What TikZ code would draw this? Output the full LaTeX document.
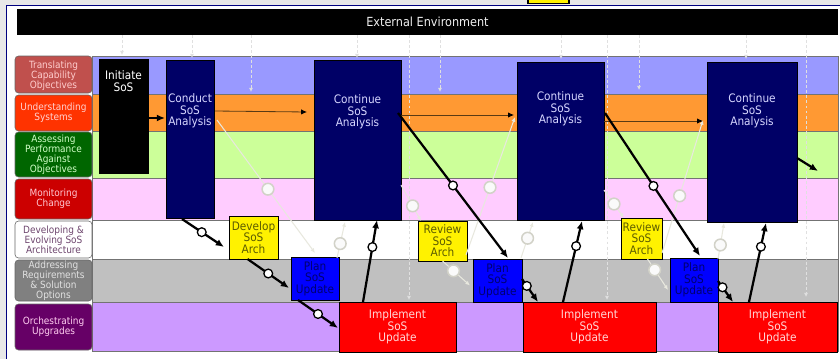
\documentclass[tikz,border=0pt]{standalone}
\usepackage{fontspec}
\setmainfont{DejaVu Sans Condensed}
\usetikzlibrary{fit,calc,arrows.meta}
\definecolor{laneA}{HTML}{9999FF}
\definecolor{laneB}{HTML}{FF9933}
\definecolor{laneC}{HTML}{CCFF99}
\definecolor{laneD}{HTML}{FFCCFF}
\definecolor{laneE}{HTML}{FFFFFF}
\definecolor{laneF}{HTML}{C0C0C0}
\definecolor{laneG}{HTML}{CC99FF}
\definecolor{lblA}{HTML}{C0504D}
\definecolor{lblB}{HTML}{FF3300}
\definecolor{lblC}{HTML}{006600}
\definecolor{lblD}{HTML}{CC0000}
\definecolor{lblF}{HTML}{808080}
\definecolor{lblG}{HTML}{660066}
\definecolor{navybox}{HTML}{000066}
\definecolor{framebg}{HTML}{E8E8E8}
\definecolor{frameblue}{HTML}{000080}
\definecolor{faintline}{HTML}{E8E8DE}
\definecolor{faintring}{HTML}{D2D2C8}
\definecolor{dashcol}{HTML}{E0E0E0}
\definecolor{thinline}{HTML}{5A3A14}
\definecolor{olivetext}{HTML}{5C5C00}
\definecolor{navytext}{HTML}{D7D7FF}
\definecolor{redtext}{HTML}{FFD7D7}
\definecolor{plantext}{HTML}{000070}
\newcommand\mylblfont{\fontsize{8.5}{8.6}\selectfont}
\newcommand\myboxfont{\fontsize{10}{9.8}\selectfont}
\newcommand\myheadfont{\fontsize{10.7}{12}\selectfont}
\begin{document}
\begin{tikzpicture}[x=0.03cm,y=-0.03cm,
  every node/.style={inner sep=0pt,outer sep=0pt},
  lane/.style={draw=black!55,line width=0.5pt},
  lbl/.style={draw=black!60,line width=0.5pt,rounded corners=3pt},
  lbltxt/.style={align=center,font=\mylblfont},
  blk/.style={draw=black,line width=0.8pt},
  boxtxt/.style={align=center,font=\myboxfont},
  thk/.style={draw=black,line width=1.9pt,-{Latex[length=7pt,width=6pt]}},
  thn/.style={draw=thinline,line width=0.7pt,-{Latex[length=5pt,width=4.5pt,color=black]}},
  fnt/.style={draw=faintline,line width=0.9pt,-{Latex[length=4pt,width=3.5pt]}},
  dsh/.style={draw=dashcol,line width=0.7pt,dash pattern=on 2.5pt off 1.8pt,-{Latex[length=3.5pt,width=3.5pt]}},
  circ/.style={circle,draw=black,fill=white,line width=1.1pt,minimum size=7.5pt},
  fcirc/.style={circle,draw=faintring,fill=white!96!gray,line width=1.3pt,minimum size=10pt}]
\useasboundingbox (0,0) rectangle (840,359);
% page frame
\fill[framebg] (0,0) rectangle (840,359);
\fill[white] (6.5,5.5) rectangle (840,359);
\draw[frameblue,line width=1.2pt] (6.5,359) -- (6.5,5.3) -- (840,5.3);
\node[draw=black,line width=0.9pt,fill=yellow,fit={(528,-2)(569,3.8)}] (tab) {};
% external environment bar
\node[fill=black,fit={(17,9)(838,35)}] (bar) {};
\node[font=\myheadfont,text=white!88!gray] (bart) at (bar) {External Environment};
% lanes
\node[lane,fill=laneA,fit={(92,56)(838,94)}] (ln1) {};
\node[lane,fill=laneB,fit={(92,94)(838,131)}] (ln2) {};
\node[lane,fill=laneC,fit={(92,131)(838,178)}] (ln3) {};
\node[lane,fill=laneD,fit={(92,178)(838,220)}] (ln4) {};
\node[lane,fill=laneE,fit={(92,220)(838,259)}] (ln5) {};
\node[lane,fill=laneF,fit={(92,259)(838,302)}] (ln6) {};
\node[lane,fill=laneG,fit={(92,302)(838,351)}] (ln7) {};
% lane labels
\node[lbl,fill=lblA,fit={(15,56)(92,93)}] (lb1) {};
\node[lbltxt,text={rgb,255:red,255;green,205;blue,205}] (lb1t) at ($(lb1)+(0,1.5)$) {Translating\\Capability\\Objectives};
\node[lbl,fill=lblB,fit={(15,95)(92,131)}] (lb2) {};
\node[lbltxt,text={rgb,255:red,255;green,210;blue,210}] (lb2t) at (lb2) {Understanding\\Systems};
\node[lbl,fill=lblC,fit={(15,132)(92,177)}] (lb3) {};
\node[lbltxt,text={rgb,255:red,210;green,255;blue,200}] (lb3t) at (lb3) {Assessing\\Performance\\Against\\Objectives};
\node[lbl,fill=lblD,fit={(15,179)(92,219)}] (lb4) {};
\node[lbltxt,text={rgb,255:red,255;green,200;blue,210}] (lb4t) at (lb4) {Monitoring\\Change};
\node[lbl,fill=white,fit={(15,221)(92,258)}] (lb5) {};
\node[lbltxt,text={rgb,255:red,110;green,70;blue,110}] (lb5t) at (lb5) {Developing \&\\Evolving SoS\\Architecture};
\node[lbl,fill=lblF,fit={(15,260)(92,301)}] (lb6) {};
\node[lbltxt,text={rgb,255:red,225;green,225;blue,225}] (lb6t) at (lb6) {Addressing\\Requirements\\\& Solution\\Options};
\node[lbl,fill=lblG,fit={(15,304)(92,350)}] (lb7) {};
\node[lbltxt,text={rgb,255:red,255;green,205;blue,240}] (lb7t) at (lb7) {Orchestrating\\Upgrades};
% dashed lines from the external environment
\foreach \x/\y in {122/55,192/58,251/92,357/58,409/300,440/92,561/59,607/300,639/90,746/59,806/297}
  \draw[dsh] ($(bar.south west)+(\x-17,0)$) -- ($(bar.south west)+(\x-17,\y-35)$);
% analysis boxes
\node[blk,fill=black,fit={(99,59)(148,173)}] (initiate) {};
\node[boxtxt,text=white] (initiatet) at (123.5,81) {Initiate\\SoS};
\node[blk,fill=navybox,fit={(166,60)(214,218)}] (conduct) {};
\node[boxtxt,text=navytext] (conductt) at (190,111) {Conduct\\SoS\\Analysis};
\node[blk,fill=navybox,fit={(314,60)(401,220)}] (cont1) {};
\node[boxtxt,text=navytext] (cont1t) at (357.5,112) {Continue\\SoS\\Analysis};
\node[blk,fill=navybox,fit={(517,62)(604,220)}] (cont2) {};
\node[boxtxt,text=navytext] (cont2t) at (560.5,109) {Continue\\SoS\\Analysis};
\node[blk,fill=navybox,fit={(707,62)(797,222)}] (cont3) {};
\node[boxtxt,text=navytext] (cont3t) at (752,111) {Continue\\SoS\\Analysis};
% architecture, planning, implementation boxes
\node[blk,fill=yellow,fit={(229,216)(278,259)}] (dev) {};
\node[boxtxt,text=olivetext] (devt) at (dev) {Develop\\SoS\\Arch};
\node[blk,fill=yellow,fit={(418,221)(467,261)}] (rev1) {};
\node[boxtxt,text=olivetext] (rev1t) at (rev1) {Review\\SoS\\Arch};
\node[blk,fill=yellow,fit={(621,218)(662,259)}] (rev2) {};
\node[boxtxt,text=olivetext] (rev2t) at (rev2) {Review\\SoS\\Arch};
\node[blk,fill=blue,fit={(291,257)(339,300)}] (plan1) {};
\node[boxtxt,text=plantext] (plan1t) at (plan1) {Plan\\SoS\\Update};
\node[blk,fill=blue,fit={(473,259)(522,302)}] (plan2) {};
\node[boxtxt,text=plantext] (plan2t) at (plan2) {Plan\\SoS\\Update};
\node[blk,fill=blue,fit={(670,258)(718,302)}] (plan3) {};
\node[boxtxt,text=plantext] (plan3t) at (plan3) {Plan\\SoS\\Update};
\node[blk,fill=red,fit={(339,302)(456,352)}] (impl1) {};
\node[boxtxt,text=redtext] (impl1t) at (impl1) {Implement\\SoS\\Update};
\node[blk,fill=red,fit={(523,302)(656,352)}] (impl2) {};
\node[boxtxt,text=redtext] (impl2t) at (impl2) {Implement\\SoS\\Update};
\node[blk,fill=red,fit={(718,302)(837,352)}] (impl3) {};
\node[boxtxt,text=redtext] (impl3t) at (impl3) {Implement\\SoS\\Update};
% faint arrows
\draw[fnt] ($(conduct.north east)+(3,60)$) -- node[fcirc,pos=0.52] (fa) {} ($(plan1.north)+(0,-4)$);
\draw[fnt] ($(plan1.north east)+(-2,1)$) -- node[fcirc,pos=0.4] (fb) {} ($(cont1.south east)+(-56,2)$);
\draw[fnt] ($(cont1.south east)+(0,-35)$) -- node[fcirc,pos=0.58] (fd1) {} ($(rev1.north west)+(3,0)$);
\draw[fnt] (rev1.south) -- node[fcirc,pos=0.4] (fe1) {} ($(plan2.west)+(-3,5)$);
\draw[fnt] ($(rev1.south east)+(-1,-6)$) -- node[fcirc,pos=0.49] (ff1) {} ($(cont2.north west)+(-2,55)$);
\draw[fnt] ($(plan2.north east)+(-1,-1)$) -- node[fcirc,pos=0.55] (fg1) {} ($(cont2.south west)+(16,2)$);
\draw[fnt] ($(cont2.south east)+(0,-30)$) -- node[fcirc,pos=0.5] (fd2) {} ($(rev2.north west)+(3,0)$);
\draw[fnt] ($(rev2.south)+(6,0)$) -- node[fcirc,pos=0.35] (fe2) {} ($(plan3.west)+(-2,10)$);
\draw[fnt] ($(rev2.south east)+(0,-6)$) -- node[fcirc,pos=0.43] (ff2) {} ($(cont3.north west)+(-4,58)$);
\draw[fnt] ($(plan3.north east)+(0,1)$) -- node[fcirc,pos=0.39] (fg2) {} ($(cont3.south west)+(17,1)$);
% thin arrows between analyses
\draw[thn] ($(conduct.north east)+(1,51)$) -- ($(cont1.north west)+(-7,52)$);
\draw[thn] ($(cont1.north east)+(0,55)$) -- ($(cont2.north west)+(-3,53)$);
\draw[thn] ($(cont2.north east)+(0,59)$) -- ($(cont3.north west)+(-4,59)$);
% thick arrows
\coordinate (out) at (818,171);
\draw[thk] ($(initiate.north east)+(0,59)$) -- ($(conduct.north west)+(-1,58)$);
\draw[thk] ($(cont3.north east)+(0,96)$) -- (out);
\draw[thk] ($(conduct.south)+(-8,1)$) -- node[circ,pos=0.47] (k6) {} ($(dev.south west)+(-5,-12)$);
\draw[thk] ($(dev.south)+(-6,0)$) -- node[circ,pos=0.5] (k7) {} ($(plan1.west)+(-2,9.5)$);
\draw[thk] ($(plan1.south)+(-17,0)$) -- node[circ,pos=0.5] (k8) {} ($(impl1.west)+(-1,1)$);
\draw[thk] ($(impl1.north west)+(24,0)$) -- node[circ,pos=0.67] (k9) {} ($(cont1.south west)+(63,0)$);
\draw[thk] ($(cont1.north east)+(-3,53)$) -- node[circ,pos=0.5] (k10) {} ($(plan2.north)+(10.5,-1)$);
\draw[thk] ($(plan2.north east)+(0,20)$) -- node[circ,pos=0.3] (k11) {} ($(impl2.north west)+(15,0)$);
\draw[thk] ($(impl2.north west)+(40,0)$) -- node[circ,pos=0.69] (k12) {} ($(cont2.south west)+(65,1)$);
\draw[thk] ($(cont2.north east)+(1,51)$) -- node[circ,pos=0.51] (k13) {} ($(plan3.north)+(6,-2)$);
\draw[thk] ($(plan3.north east)+(0,23)$) -- node[circ,pos=0.3] (k14) {} ($(impl3.north west)+(15,0)$);
\draw[thk] ($(impl3.north west)+(31,0)$) -- node[circ,pos=0.7] (k15) {} ($(cont3.south west)+(59,1)$);
\end{tikzpicture}
\end{document}
